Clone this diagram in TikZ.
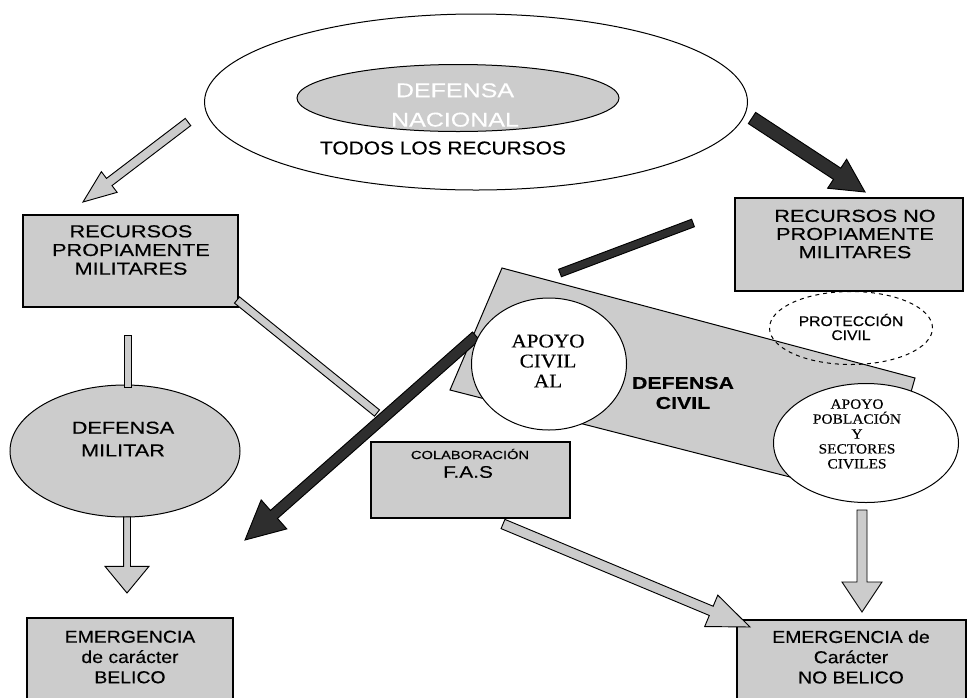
\documentclass[tikz,border=0pt]{standalone}
\usepackage{fontspec}
\setmainfont{Liberation Sans}[FakeStretch=1.25,FakeBold=0.3]
\newfontfamily\sansn{Liberation Sans}[FakeStretch=1.12,FakeBold=0.3]
\newfontfamily\serifw{Liberation Serif}[FakeStretch=1.1,FakeBold=0.3]
\usetikzlibrary{calc,shapes.geometric}
\definecolor{boxgray}{gray}{0.80}
\definecolor{darkfill}{gray}{0.18}
\def\u{0.75pt}
\newcommand\barrow[6]{%
  \coordinate (ba) at ($(#2)!#5!(#1)$);
  \draw[#6] ($(#1)!#3!90:(#2)$) -- ($(ba)!#3!90:(#2)$) -- ($(ba)!#4!90:(#2)$) -- (#2)
    -- ($(ba)!#4!-90:(#2)$) -- ($(ba)!#3!-90:(#2)$) -- ($(#1)!#3!-90:(#2)$) -- cycle;}
\newcommand\bbar[4]{%
  \draw[#4] ($(#1)!#3!90:(#2)$) -- ($(#2)!#3!-90:(#1)$) -- ($(#2)!#3!90:(#1)$) -- ($(#1)!#3!-90:(#2)$) -- cycle;}
\tikzset{
  box/.style={draw=black, fill=boxgray, line width=0.9pt, inner sep=0pt},
  oval/.style={ellipse, draw=black, line width=0.75pt, inner sep=0pt},
  txt/.style={align=center, inner sep=0pt},
  grayarrow/.style={draw=black, fill=boxgray, line width=0.7pt},
  darkarrow/.style={draw=black, fill=darkfill, line width=0.7pt},
}
\begin{document}
\begin{tikzpicture}[x=0.75pt,y=-0.75pt]
\path[use as bounding box] (0,0) rectangle (978,697);
\clip (0,0) rectangle (978,697);
\fill[white] (0,0) rectangle (978,697);

% top ellipses
\node[oval, fill=white, minimum width=543*\u, minimum height=176*\u] (todos) at (476,102) {};
\node[oval, fill=boxgray, minimum width=322*\u, minimum height=67*\u] (nac) at (458,98) {};
\node[txt, text=white, font=\fontsize{15pt}{22pt}\selectfont] (nactxt) at (455,105) {DEFENSA\\NACIONAL};
\node[txt, font=\sansn\fontsize{14pt}{16pt}\selectfont] (todostxt) at (443,148) {TODOS LOS RECURSOS};

% boxes
\node[box, minimum width=215*\u, minimum height=92*\u] (rpm) at (130.5,261) {};
\node[txt, font=\fontsize{13pt}{14pt}\selectfont] at (131,250) {RECURSOS\\PROPIAMENTE\\MILITARES};
\node[box, minimum width=228*\u, minimum height=93*\u] (rnpm) at (849,244.5) {};
\node[txt, font=\fontsize{13pt}{13.6pt}\selectfont] at (855,234) {RECURSOS NO\\PROPIAMENTE\\MILITARES};

% defensa civil polygon
\draw[fill=boxgray, line width=0.75pt] (502,268) -- (915,378) -- (880,500) -- (450,390) -- cycle;
\node[txt, font=\bfseries\fontsize{12.8pt}{15pt}\selectfont] (dctxt) at (683,393) {DEFENSA\\CIVIL};

% bars and dark arrows
\coordinate (b1s) at (560,273); \coordinate (b1e) at (693,223);
\bbar{b1s}{b1e}{3pt}{darkarrow}
\coordinate (b2s) at (237,300); \coordinate (b2e) at (377,413);
\bbar{b2s}{b2e}{3pt}{grayarrow}
\coordinate (a5s) at (476,336); \coordinate (a5e) at (245,540);
\barrow{a5s}{a5e}{4pt}{14.5pt}{29pt}{darkarrow}

% circles
\node[oval, fill=white, minimum width=155*\u, minimum height=132*\u] (acal) at (549,364) {};
\node[txt, font=\serifw\fontsize{14.5pt}{15pt}\selectfont] at (548,361) {APOYO\\CIVIL\\AL};
\node[oval, fill=white, minimum width=185*\u, minimum height=119*\u] (apob) at (866,443) {};
\node[txt, font=\serifw\fontsize{10.5pt}{11.2pt}\selectfont] at (857,434) {APOYO\\POBLACIÓN\\Y\\SECTORES\\CIVILES};
\node[oval, dashed, minimum width=163*\u, minimum height=73*\u] (prot) at (851,328) {};
\node[txt, font=\sansn\fontsize{10.5pt}{10.5pt}\selectfont] at (851,327) {PROTECCIÓN\\CIVIL};

% defensa militar
\node[oval, fill=boxgray, minimum width=230*\u, minimum height=132*\u] (dmil) at (125,451) {};
\node[txt, font=\fontsize{13pt}{17pt}\selectfont] at (123,439) {DEFENSA\\MILITAR};

% colaboracion
\node[box, minimum width=199*\u, minimum height=76*\u] (colab) at (470.5,480) {};
\node[txt, font=\fontsize{8.8pt}{10pt}\selectfont] at (470,454) {COLABORACIÓN};
\node[txt, font=\fontsize{12.5pt}{14pt}\selectfont] at (468,472) {F.A.S};

% emergencias
\node[box, minimum width=206*\u, minimum height=92*\u] (emb) at (130,664) {};
\node[txt, font=\sansn\fontsize{13pt}{15.2pt}\selectfont] at (130,657) {EMERGENCIA\\de carácter\\BELICO};
\node[box, minimum width=229*\u, minimum height=92*\u] (emnb) at (851.5,666) {};
\node[txt, font=\sansn\fontsize{13pt}{15.2pt}\selectfont] at (851,657) {EMERGENCIA de\\Carácter\\NO BELICO};

% arrows
\coordinate (a1s) at (188,122); \coordinate (a1e) at (83,202);
\barrow{a1s}{a1e}{3.4pt}{9.75pt}{24.75pt}{grayarrow}
\coordinate (a2s) at (752,118); \coordinate (a2e) at (865,192);
\barrow{a2s}{a2e}{5pt}{13pt}{25pt}{darkarrow}
\coordinate (b3s) at (128,335); \coordinate (b3e) at (128,387);
\bbar{b3s}{b3e}{2.6pt}{grayarrow}
\coordinate (a7s) at (127,517); \coordinate (a7e) at (127,593);
\barrow{a7s}{a7e}{2.6pt}{16.5pt}{20pt}{grayarrow}
\coordinate (a8s) at (862,510); \coordinate (a8e) at (862,612);
\barrow{a8s}{a8e}{3.75pt}{15pt}{22.5pt}{grayarrow}
\coordinate (a9s) at (503,524); \coordinate (a9e) at (750,627);
\barrow{a9s}{a9e}{3.75pt}{12.75pt}{31.5pt}{grayarrow}
\end{tikzpicture}
\end{document}
